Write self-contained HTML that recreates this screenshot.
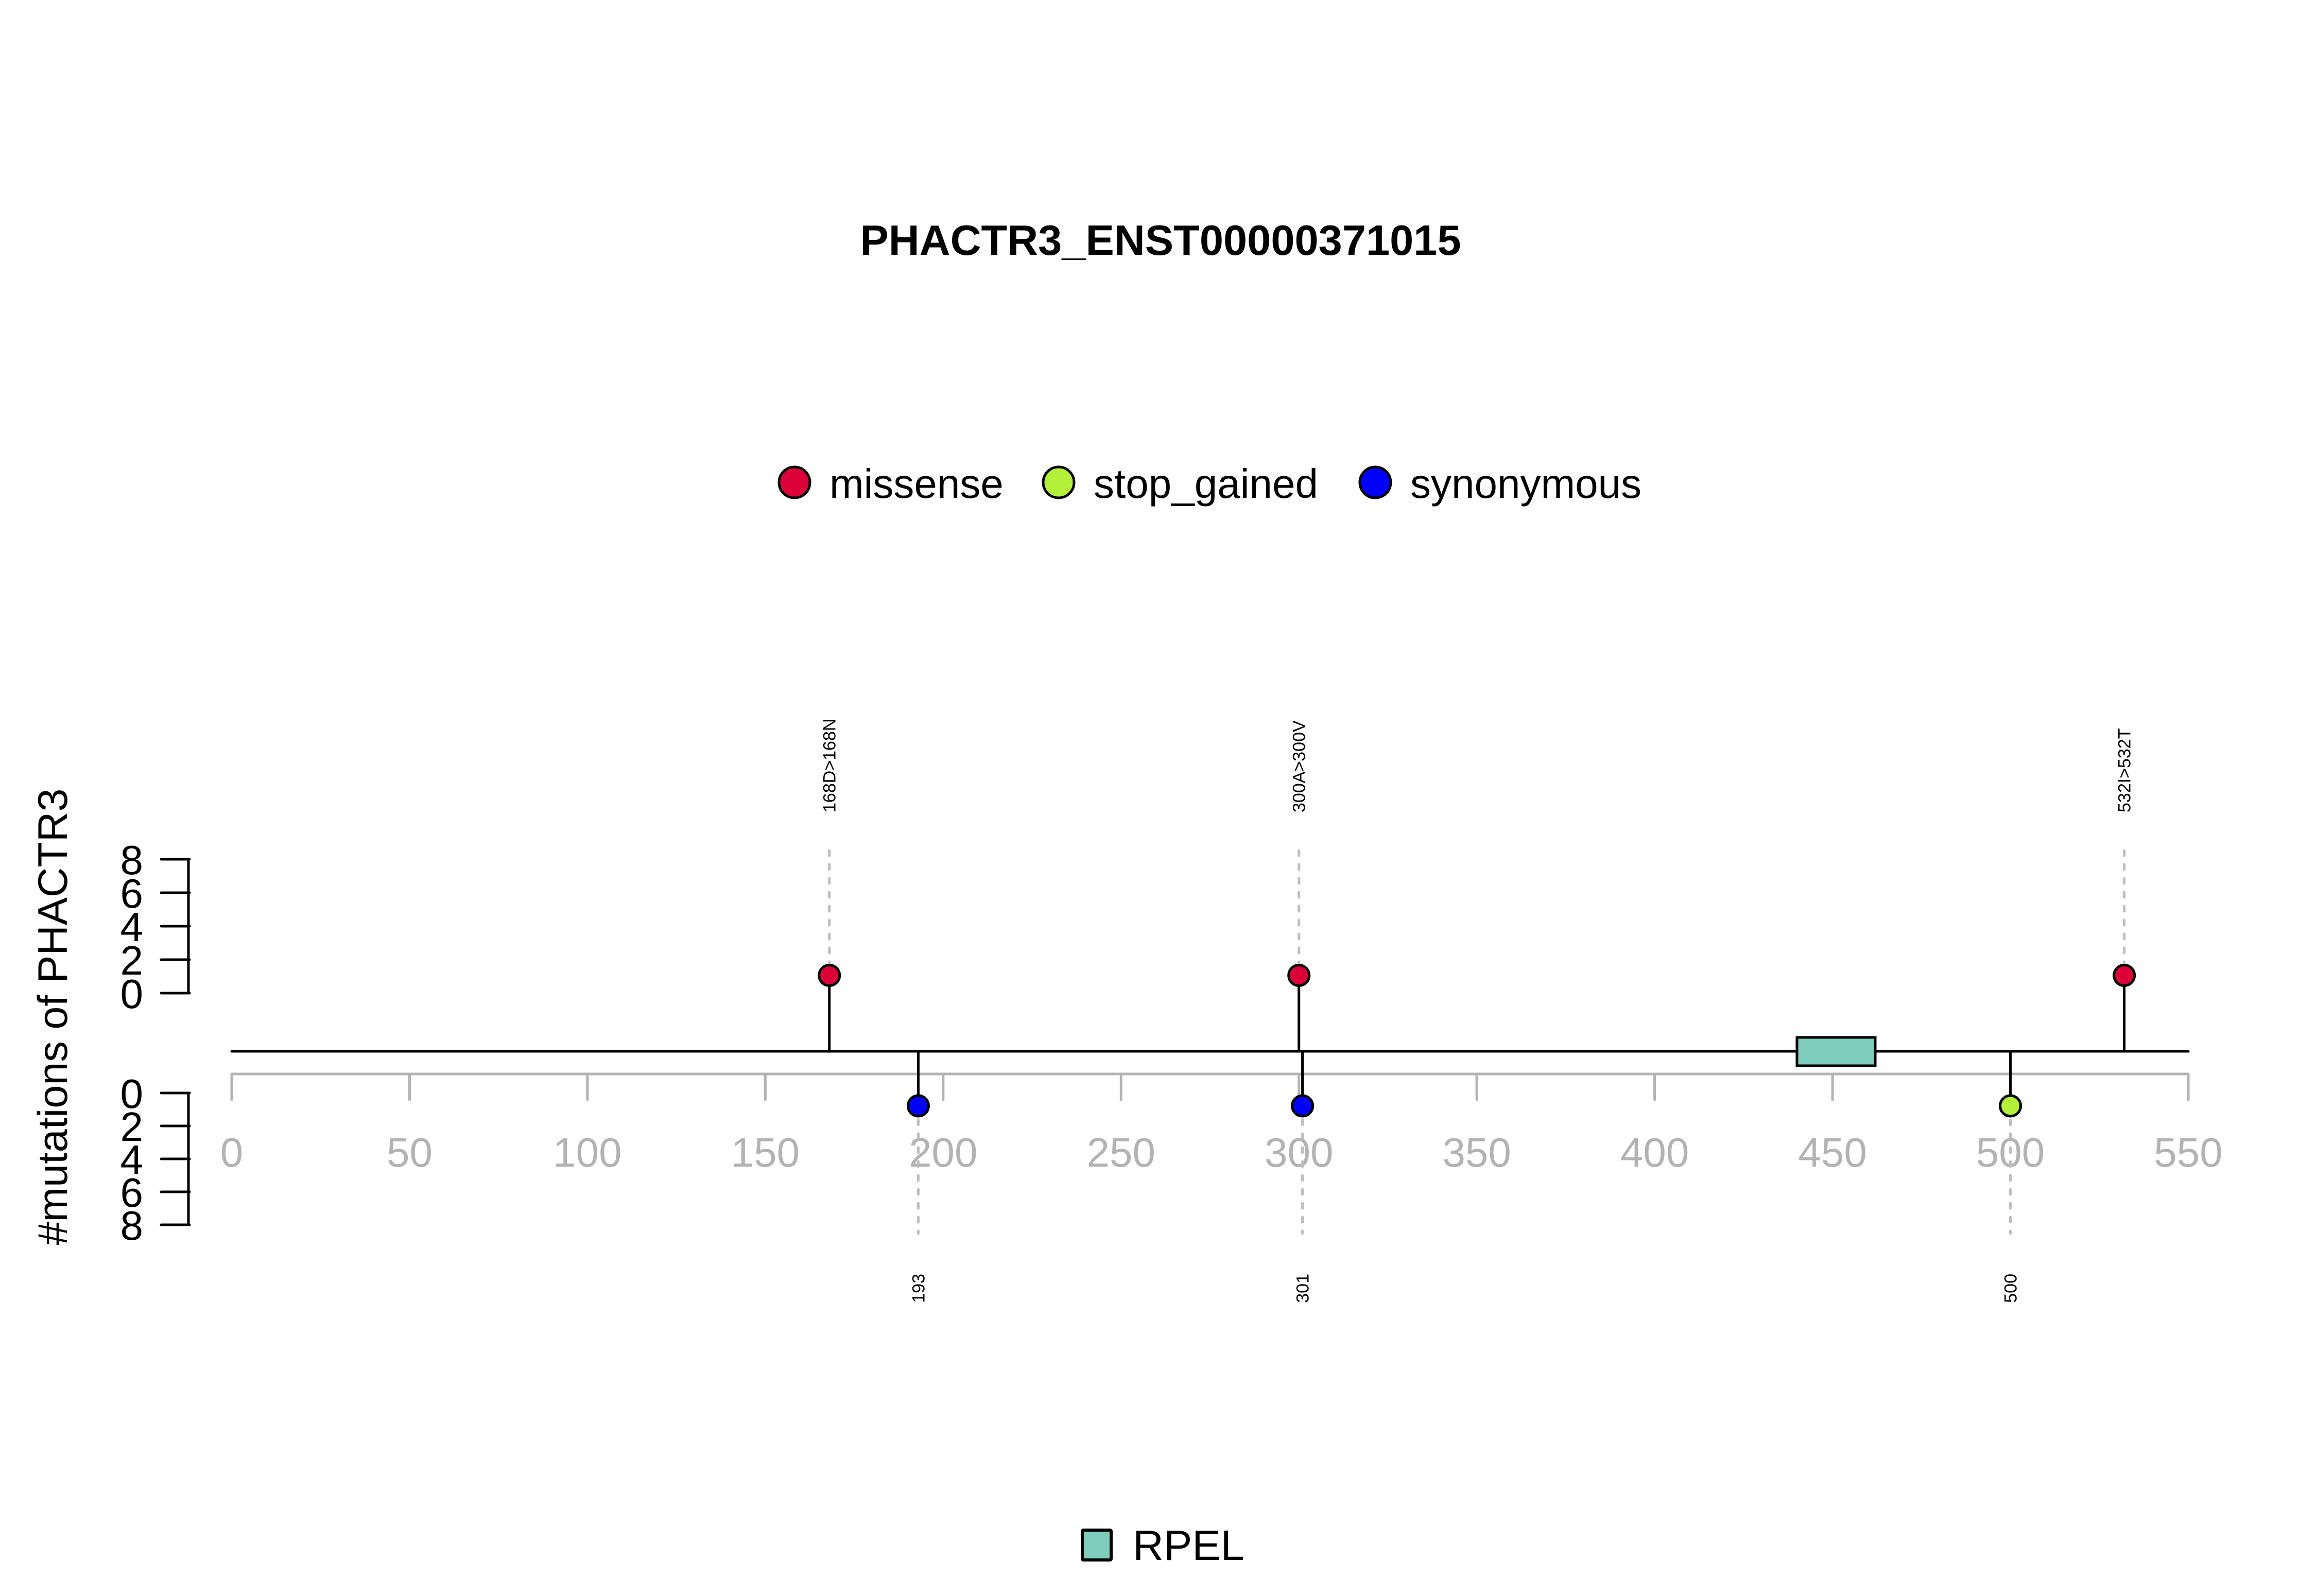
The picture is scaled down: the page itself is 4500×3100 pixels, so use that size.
<!DOCTYPE html>
<html><head><meta charset="utf-8"><style>html,body{margin:0;padding:0;background:#fff}svg{display:block}</style></head>
<body>
<svg id="chart" xmlns="http://www.w3.org/2000/svg" width="4500" height="3100" viewBox="0 0 4500 3100" font-family="Liberation Sans, sans-serif">
<rect width="4500" height="3100" fill="#fff"/>
<text x="2254" y="495" text-anchor="middle" font-size="83" font-weight="bold">PHACTR3_ENST00000371015</text>
<g id="legend"></g>
<g id="plot"></g>
<text transform="translate(130,1975) rotate(-90)" text-anchor="middle" font-size="81">#mutations of PHACTR3</text>
<g>
<rect x="2102" y="2972" width="56" height="58" fill="#7fcdbb" stroke="#000" stroke-width="6" rx="2"/>
<text x="2200" y="3030" font-size="83">RPEL</text>
</g>
</svg>
<script>
const xTicks = [0,50,100,150,200,250,300,350,400,450,500,550];
const yTicks = [0,2,4,6,8];
const legendNames = ['missense','stop_gained','synonymous'];
const legendColors = ['#dc0039','#b3f03a','#0000ff'];
const upPos = [168,300,532];
const upCount = [1,1,1];
const upLabels = ['168D>168N','300A>300V','532I>532T'];
const upType = ['missense','missense','missense'];
const downPos = [193,301,500];
const downCount = [1,1,1];
const downLabels = ['193','301','500'];
const downType = ['synonymous','synonymous','stop_gained'];
const domainNames = ['RPEL'];
const domainStart = [440];
const domainEnd = [462];

const NS='http://www.w3.org/2000/svg';
const plot=document.getElementById('plot');
const legend=document.getElementById('legend');
function mk(tag,attrs,parent){const e=document.createElementNS(NS,tag);for(const k in attrs)e.setAttribute(k,attrs[k]);(parent||plot).appendChild(e);return e;}
const X=v=>450+v*(3800/550);
const YU=v=>1929-v*32.5;
const YD=v=>2123+v*32;
const colorOf=t=>legendColors[legendNames.indexOf(t)];
const backY=2042;

const legX=[1543,2056,2671];
legendNames.forEach((n,i)=>{
  const c=mk('circle',{cx:legX[i],cy:937,r:30,fill:legendColors[i],stroke:'#000','stroke-width':5},legend);
  
  
  const t=mk('text',{x:legX[i]+68,y:967,'font-size':80},legend);
  t.textContent=n;
  
  
});

const ax=mk('line',{x1:X(0),x2:X(550),y1:2086,y2:2086,stroke:'#b3b3b3','stroke-width':5});


xTicks.forEach(v=>{
  const l=mk('line',{x1:X(v),x2:X(v),y1:2086,y2:2136,stroke:'#b3b3b3','stroke-width':5,'stroke-linecap':'round'});
  
  
  const t=mk('text',{x:X(v),y:2266,'text-anchor':'middle','font-size':80,fill:'#b3b3b3'});
  t.textContent=v;
  
  
});

[[YU,'upper'],[YD,'lower']].forEach(([Y,nm])=>{
  const l=mk('line',{x1:366,x2:366,y1:Y(0),y2:Y(8),stroke:'#000','stroke-width':5});
  
  
  yTicks.forEach(v=>{
    const tk=mk('line',{x1:313,x2:368,y1:Y(v),y2:Y(v),stroke:'#000','stroke-width':5,'stroke-linecap':'round'});
    
    
    const t=mk('text',{x:278,y:Y(v)+29,'text-anchor':'end','font-size':80});
    t.textContent=v;
    
    
  });
});

const bb=mk('line',{x1:X(0),x2:X(550),y1:backY,y2:backY,stroke:'#000','stroke-width':5,'stroke-linecap':'round'});



domainNames.forEach((n,i)=>{
  const r=mk('rect',{x:X(domainStart[i]),y:2015,width:X(domainEnd[i])-X(domainStart[i]),height:55,fill:'#7fcdbb',stroke:'#000','stroke-width':5});
  
  
});

upPos.forEach((p,i)=>{
  const x=X(p),y=YU(upCount[i])-2;
  const d=mk('line',{x1:x,x2:x,y1:1652,y2:y,stroke:'#bdbdbd','stroke-width':5,'stroke-dasharray':'10 17','stroke-linecap':'round'});
  
  
  const s=mk('line',{x1:x,x2:x,y1:backY,y2:y,stroke:'#000','stroke-width':5});
  
  
  const c=mk('circle',{cx:x,cy:y,r:20,fill:colorOf(upType[i]),stroke:'#000','stroke-width':5});
  
  
  const t=mk('text',{transform:`translate(${x+12},1578) rotate(-90)`,'font-size':34});
  t.textContent=upLabels[i];
  
  
});

downPos.forEach((p,i)=>{
  const x=X(p),y=YD(downCount[i])-7;
  const d=mk('line',{x1:x,x2:x,y1:y,y2:2396,stroke:'#bdbdbd','stroke-width':5,'stroke-dasharray':'10 17','stroke-linecap':'round'});
  
  
  const s=mk('line',{x1:x,x2:x,y1:backY,y2:y,stroke:'#000','stroke-width':5});
  
  
  const c=mk('circle',{cx:x,cy:y,r:20,fill:colorOf(downType[i]),stroke:'#000','stroke-width':5});
  
  
  const t=mk('text',{transform:`translate(${x+12},2474) rotate(-90)`,'font-size':34,'text-anchor':'end'});
  t.textContent=downLabels[i];
  
  
});
</script>
</body></html>
